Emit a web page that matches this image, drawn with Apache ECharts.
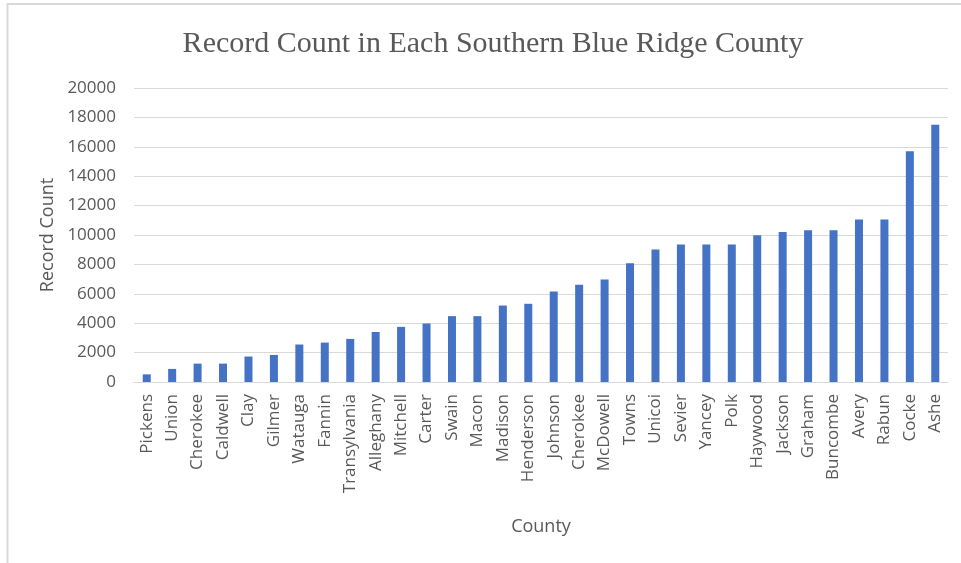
<!DOCTYPE html>
<html>
<head>
<meta charset="utf-8">
<script src="https://cdn.jsdelivr.net/npm/echarts@6/dist/echarts.min.js"></script>
<style>
  html, body { margin: 0; padding: 0; background: #fff; }
  #chart { width: 961px; height: 563px; }
</style>
</head>
<body>
<div id="chart"></div>
<script>
const counties = ['Pickens', 'Union', 'Cherokee', 'Caldwell', 'Clay', 'Gilmer', 'Watauga', 'Fannin',
  'Transylvania', 'Alleghany', 'Mitchell', 'Carter', 'Swain', 'Macon', 'Madison', 'Henderson',
  'Johnson', 'Cherokee', 'McDowell', 'Towns', 'Unicoi', 'Sevier', 'Yancey', 'Polk', 'Haywood',
  'Jackson', 'Graham', 'Buncombe', 'Avery', 'Rabun', 'Cocke', 'Ashe'];
const recordCounts = [520, 890, 1250, 1250, 1730, 1840, 2550, 2680,
  2930, 3400, 3750, 3980, 4480, 4480, 5200, 5320,
  6160, 6610, 6980, 8070, 9020, 9360, 9360, 9360, 9980,
  10200, 10320, 10320, 11050, 11050, 15700, 17500];

const chart = echarts.init(document.getElementById('chart'));
const labelColor = '#595959';
const sans = '"Open Sans", sans-serif';

chart.setOption({
  animation: false,
  backgroundColor: '#fff',
  title: {
    text: 'Record Count in Each Southern Blue Ridge County',
    left: 488,
    textAlign: 'center',
    top: 24,
    textStyle: { fontFamily: '"Liberation Serif", serif', fontSize: 30, fontWeight: 'normal', color: labelColor }
  },
  graphic: [{
    type: 'rect',
    shape: { x: 7.5, y: 4, width: 980, height: 600 },
    style: { fill: 'none', stroke: '#d9d9d9', lineWidth: 2 },
    silent: true
  }],
  grid: { left: 134, right: 13, top: 88, bottom: 181 },
  xAxis: {
    type: 'category',
    data: counties,
    name: 'County',
    nameLocation: 'middle',
    nameGap: 136,
    nameTextStyle: { fontFamily: sans, fontSize: 18, color: labelColor },
    axisLine: { lineStyle: { color: '#d9d9d9' } },
    axisTick: { show: false },
    axisLabel: { interval: 0, rotate: 90, fontFamily: sans, fontSize: 17, color: labelColor, margin: 12 }
  },
  yAxis: {
    type: 'value',
    min: 0,
    max: 20000,
    interval: 2000,
    name: 'Record Count',
    nameLocation: 'middle',
    nameGap: 77,
    nameTextStyle: { fontFamily: sans, fontSize: 18, color: labelColor },
    axisLine: { show: false },
    axisTick: { show: false },
    axisLabel: { fontFamily: sans, fontSize: 17, color: labelColor, margin: 18, formatter: v => String(v) },
    splitLine: { lineStyle: { color: '#d9d9d9', width: 1 } }
  },
  series: [{
    type: 'bar',
    data: recordCounts,
    barWidth: 8,
    itemStyle: { color: '#4472c4' }
  }]
});
</script>
</body>
</html>
